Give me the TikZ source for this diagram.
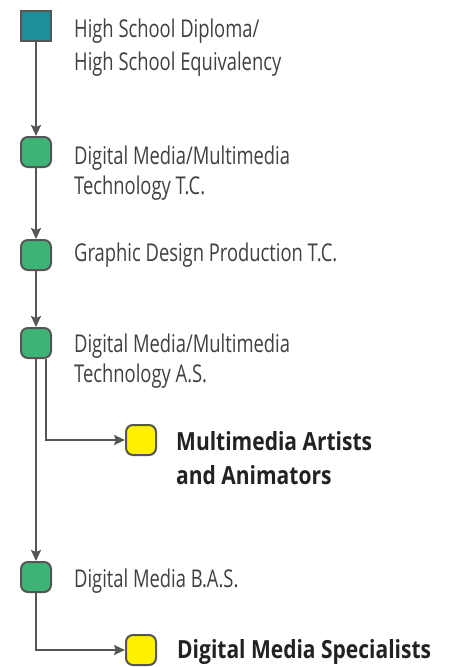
\documentclass[tikz,border=0pt]{standalone}
\usepackage{fontspec}
\usetikzlibrary{arrows.meta}
\newfontfamily\regfont[FakeStretch=0.75]{Open Sans}
\newfontfamily\boldfont[FakeStretch=0.84]{Open Sans Bold}
\definecolor{teal1}{HTML}{1D8F99}
\definecolor{green1}{HTML}{3DB475}
\definecolor{yellow1}{HTML}{FFF100}
\definecolor{edge1}{HTML}{555555}
\definecolor{text1}{HTML}{404040}
\definecolor{text2}{HTML}{222222}
\tikzset{
  box/.style={draw=edge1, line width=2pt, minimum size=30pt, inner sep=0pt},
  sqbox/.style={box, fill=teal1},
  grbox/.style={box, fill=green1, rounded corners=7pt},
  yebox/.style={box, fill=yellow1, rounded corners=7pt},
  lab/.style={anchor=base west, inner sep=0pt, align=left, text=text1,
    font=\regfont\fontsize{24.5}{30}\selectfont},
  blab/.style={anchor=base west, inner sep=0pt, align=left, text=text2,
    font=\boldfont\fontsize{25}{33.3}\selectfont},
  conn/.style={draw=edge1, line width=2pt, -{Stealth[length=11pt,width=10pt,inset=2pt]}},
}
\begin{document}
\begin{tikzpicture}[x=1pt,y=-1pt]
\useasboundingbox (0,0) rectangle (451,667);
\node[sqbox] (hs) at (36,26) {};
\node[grbox] (g1) at (36,152) {};
\node[grbox] (g2) at (36,255) {};
\node[grbox] (g3) at (36,343) {};
\node[yebox] (y1) at (141,440) {};
\node[grbox] (g4) at (36,577) {};
\node[yebox] (y2) at (141,650) {};

% multi-line labels are placed by the baseline of their last line
\node[lab] (t1) at (74,70) {High School Diploma/\\[2.7pt]High School Equivalency};
\node[lab] (t2) at (74,194) {Digital Media/Multimedia\\Technology T.C.};
\node[lab] (t3) at (74,261.5) {Graphic Design Production T.C.};
\node[lab] (t4) at (74,382) {Digital Media/Multimedia\\Technology A.S.};
\node[lab] (t5) at (74,587) {Digital Media B.A.S.};
\node[blab] (b1) at (176,484) {Multimedia Artists\\and Animators};
\node[blab] (b2) at (177,658) {Digital Media Specialists};

\draw[conn] (hs) -- (g1);
\draw[conn] (g1) -- (g2);
\draw[conn] (g2) -- (g3);
\draw[conn] (g3) -- (g4);
\draw[conn] ([xshift=10pt]g3.south) |- (y1);
\draw[conn] (g4) |- (y2);
\end{tikzpicture}
\end{document}
